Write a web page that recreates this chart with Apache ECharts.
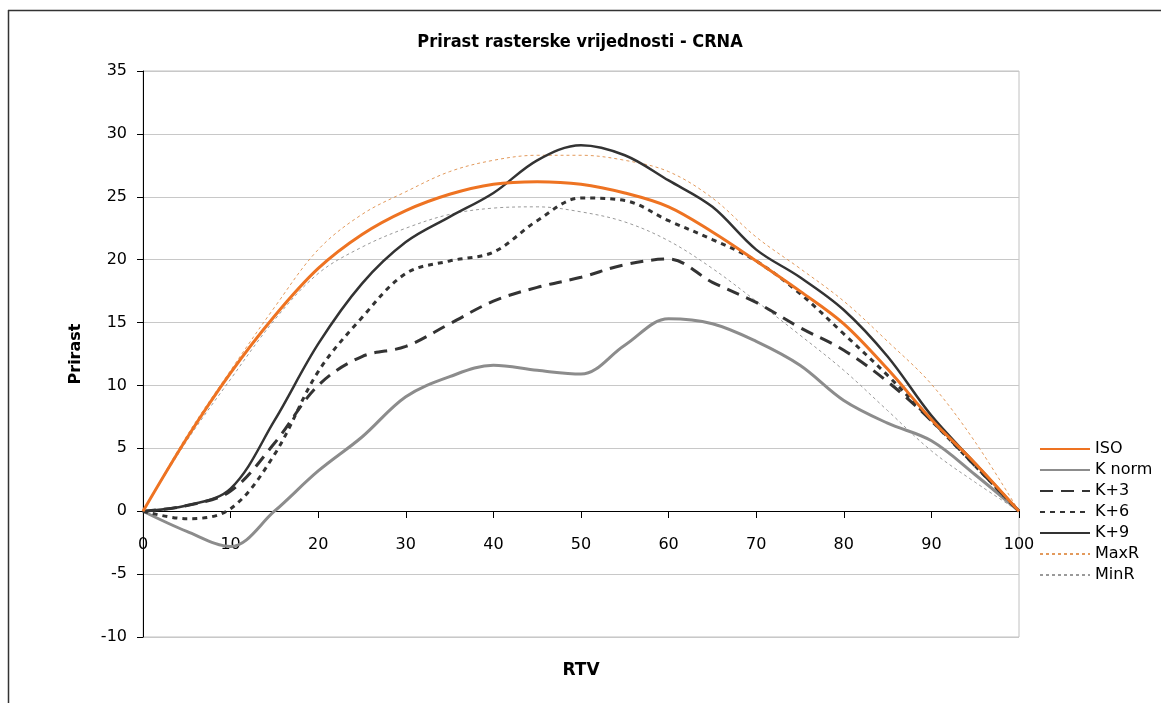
<!DOCTYPE html>
<html><head><meta charset="utf-8">
<script src="https://cdn.jsdelivr.net/npm/echarts@6/dist/echarts.min.js"></script>
<style>html,body{margin:0;padding:0;background:#fff}#c{width:1161px;height:703px}</style>
</head><body><div id="c"></div>
<script>
var rtv = [0,5,10,15,20,25,30,35,40,45,50,55,60,65,70,75,80,85,90,95,100];
var iso   = [0,5.8,11.0,15.5,19.3,22.0,23.9,25.2,26.0,26.2,26.0,25.3,24.2,22.2,19.9,17.5,14.9,11.3,7.3,3.8,0];
var kNorm = [0,-1.6,-2.8,0,3.2,5.9,9.1,10.7,11.6,11.2,10.9,13.2,15.3,14.9,13.5,11.6,8.8,7.0,5.6,2.9,0];
var k3    = [0,0.45,1.6,5.4,10.0,12.3,13.1,14.9,16.7,17.8,18.6,19.6,20.05,18.2,16.6,14.6,12.8,10.3,7.2,3.6,0];
var k6    = [0,-0.6,0.2,4.5,11.1,15.4,18.9,19.9,20.6,23.1,24.9,24.7,23.1,21.6,19.9,17.3,14.1,10.8,7.2,3.6,0];
var k9    = [0,0.45,1.8,7.2,13.3,18.1,21.4,23.4,25.3,27.9,29.1,28.3,26.3,24.2,20.8,18.6,16.0,12.3,7.6,3.8,0];
var maxR  = [0,6.0,11.2,16.2,20.8,23.6,25.4,27.0,27.9,28.3,28.3,27.9,27.0,24.9,21.8,19.3,16.7,13.5,10.1,5.5,0];
var minR  = [0,5.6,10.5,15.2,18.9,21.0,22.5,23.6,24.1,24.2,23.8,23.0,21.5,19.3,16.7,14.0,11.2,8.0,4.8,2.3,0];
var yTicks = [-10,-5,0,5,10,15,20,25,30,35];

function pairs(v){ return rtv.map(function(x,i){ return [x, v[i]]; }); }
var FONT = 'DejaVu Sans';
function mk(name, data, color, width, type){
  return {name:name, type:'line', data:pairs(data), smooth:0.35, symbol:'none', showSymbol:false,
    lineStyle:{color:color, width:width, type:type}, itemStyle:{color:color}};
}
var chart = echarts.init(document.getElementById('c'), null, {renderer:'canvas'});
chart.setOption({
  animation:false,
  backgroundColor:'#fff',
  title:{text:'Prirast rasterske vrijednosti - CRNA', left:575, top:28, textAlign:'center',
    textStyle:{fontFamily:'DejaVu Sans Condensed', fontWeight:'bold', fontSize:18, color:'#000'}},
  grid:{left:143, right:142, top:71, bottom:66, show:true, borderColor:'#c0c0c0', borderWidth:1,
    containLabel:false, outerBoundsMode:'none'},
  legend:{orient:'vertical', left:1039, top:441, padding:0, itemWidth:50, itemHeight:14, itemGap:5,
    itemStyle:{color:'rgba(0,0,0,0)', borderWidth:0, opacity:0},
    textStyle:{fontFamily:FONT, fontSize:16, color:'#000'},
    data:['ISO','K norm','K+3','K+6','K+9','MaxR','MinR']},
  xAxis:{type:'value', min:0, max:100, interval:10, name:'RTV', nameLocation:'middle', nameGap:151,
    position:'bottom', offset:-126,
    nameTextStyle:{fontFamily:FONT, fontWeight:'bold', fontSize:17, color:'#000'},
    axisLine:{onZero:false, lineStyle:{color:'#000', width:1}},
    axisTick:{show:true, length:7, lineStyle:{color:'#000'}},
    axisLabel:{margin:26, fontFamily:FONT, fontSize:16, color:'#000'},
    splitLine:{show:false}},
  yAxis:{type:'value', min:-10, max:35, interval:5, name:'Prirast', nameLocation:'middle', nameGap:59,
    nameTextStyle:{fontFamily:FONT, fontWeight:'bold', fontSize:16, color:'#000'},
    axisLine:{show:true, onZero:false, lineStyle:{color:'#000', width:1}},
    axisTick:{show:true, length:6, lineStyle:{color:'#000'}},
    axisLabel:{margin:16, fontFamily:FONT, fontSize:16, color:'#000',
      formatter:function(v){ return yTicks.indexOf(v) >= 0 ? String(v) : ''; }},
    splitLine:{show:true, lineStyle:{color:'#c8c8c8', width:1}}},
  graphic:[
    {type:'line', shape:{x1:8, y1:10.5, x2:1161, y2:10.5}, style:{stroke:'#333', lineWidth:1.5}},
    {type:'line', shape:{x1:8.5, y1:10, x2:8.5, y2:703}, style:{stroke:'#333', lineWidth:1.5}}
  ],
  series:[
    mk('MaxR', maxR, '#e39a5c', 1, [3,3]),
    mk('MinR', minR, '#9a9a9a', 1, [3,3]),
    mk('K norm', kNorm, '#8c8c8c', 3, 'solid'),
    mk('K+3', k3, '#333333', 3, [13,8]),
    mk('K+6', k6, '#333333', 3, [5,5]),
    mk('K+9', k9, '#333333', 2.5, 'solid'),
    mk('ISO', iso, '#ee7322', 3, 'solid')
  ]
});
</script></body></html>
